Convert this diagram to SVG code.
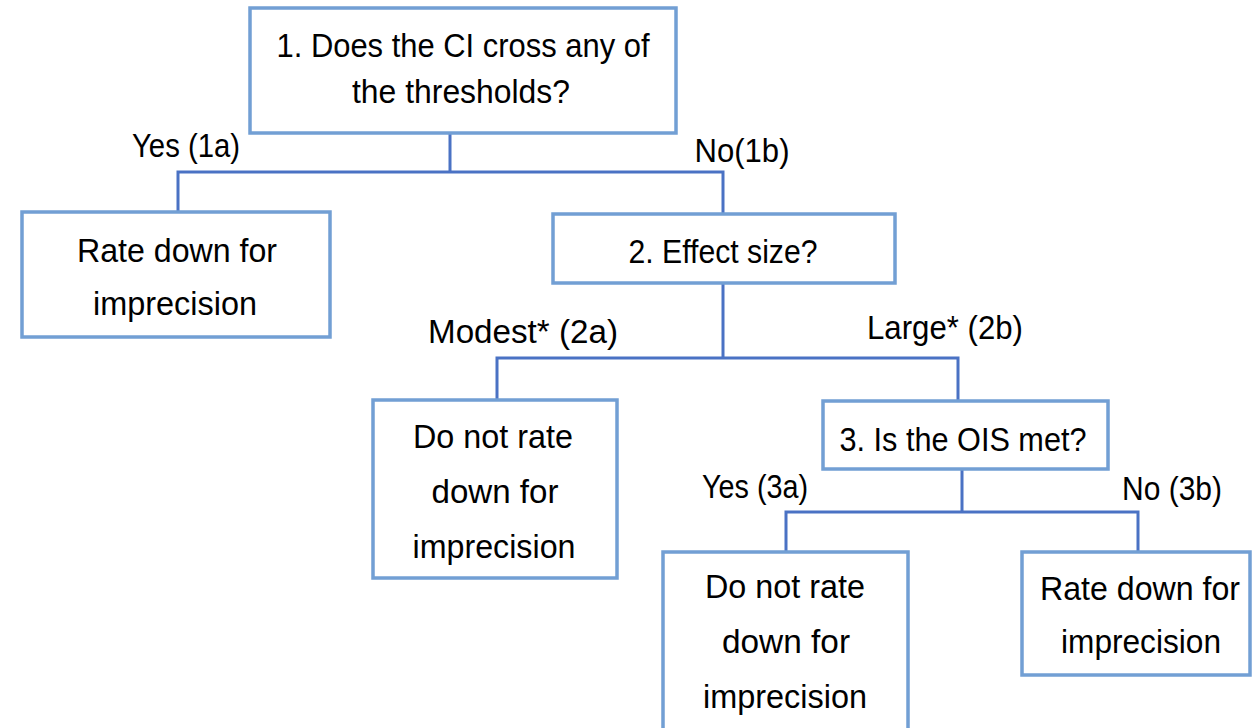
<svg xmlns="http://www.w3.org/2000/svg" width="1253" height="728" viewBox="0 0 1253 728">
<style>
.box{fill:#ffffff;stroke:#729fd4;stroke-width:3.5}
.con{fill:none;stroke:#4a72c4;stroke-width:3}
text{font-family:"Liberation Sans",Arial,sans-serif;font-size:34px;fill:#000;text-anchor:middle}
</style>
<rect width="1253" height="728" fill="#ffffff"/>
<g id="connectors">
<path class="con" d="M450,133 V172 M178,212 V172 H723 V213"/>
<path class="con" d="M723,283 V358 M497,400 V358 H958 V401"/>
<path class="con" d="M962,469 V512 M786,552 V512 H1138 V552"/>
</g>
<g id="labels">
<text x="186" y="157" textLength="108" lengthAdjust="spacingAndGlyphs">Yes (1a)</text>
<text x="742" y="162" textLength="95" lengthAdjust="spacingAndGlyphs">No(1b)</text>
<text x="523" y="343" textLength="190" lengthAdjust="spacingAndGlyphs">Modest* (2a)</text>
<text x="945" y="339" textLength="156" lengthAdjust="spacingAndGlyphs">Large* (2b)</text>
<text x="755" y="498" textLength="106" lengthAdjust="spacingAndGlyphs">Yes (3a)</text>
<text x="1172" y="500" textLength="100" lengthAdjust="spacingAndGlyphs">No (3b)</text>
</g>
<g id="n1">
<rect class="box" x="250" y="8" width="426" height="125"/>
<text x="463" y="57" textLength="373" lengthAdjust="spacingAndGlyphs">1. Does the CI cross any of</text>
<text x="461" y="103" textLength="218" lengthAdjust="spacingAndGlyphs">the thresholds?</text>
</g>
<g id="n1a">
<rect class="box" x="22" y="212" width="308" height="125"/>
<text x="177" y="262" textLength="200" lengthAdjust="spacingAndGlyphs">Rate down for</text>
<text x="175" y="315" textLength="164" lengthAdjust="spacingAndGlyphs">imprecision</text>
</g>
<g id="n2">
<rect class="box" x="553" y="214" width="342" height="69"/>
<text x="723" y="263" textLength="189" lengthAdjust="spacingAndGlyphs">2. Effect size?</text>
</g>
<g id="n2a">
<rect class="box" x="373" y="400" width="244" height="178"/>
<text x="493" y="448" textLength="160" lengthAdjust="spacingAndGlyphs">Do not rate</text>
<text x="495" y="503" textLength="127" lengthAdjust="spacingAndGlyphs">down for</text>
<text x="494" y="558" textLength="163" lengthAdjust="spacingAndGlyphs">imprecision</text>
</g>
<g id="n3">
<rect class="box" x="823" y="401" width="285" height="68"/>
<text x="963" y="451" textLength="247" lengthAdjust="spacingAndGlyphs">3. Is the OIS met?</text>
</g>
<g id="n3a">
<rect class="box" x="663" y="552" width="245" height="200"/>
<text x="785" y="598" textLength="160" lengthAdjust="spacingAndGlyphs">Do not rate</text>
<text x="786" y="653" textLength="128" lengthAdjust="spacingAndGlyphs">down for</text>
<text x="785" y="708" textLength="164" lengthAdjust="spacingAndGlyphs">imprecision</text>
</g>
<g id="n3b">
<rect class="box" x="1022" y="552" width="228" height="123"/>
<text x="1140" y="600" textLength="200" lengthAdjust="spacingAndGlyphs">Rate down for</text>
<text x="1141" y="653" textLength="160" lengthAdjust="spacingAndGlyphs">imprecision</text>
</g>
</svg>
